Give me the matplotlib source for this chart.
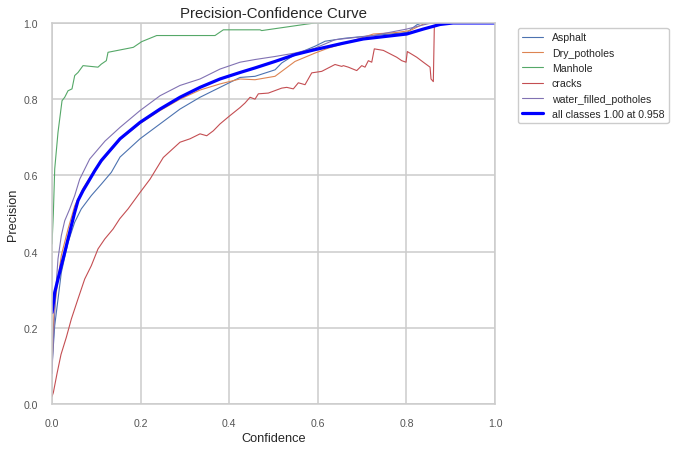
import matplotlib
matplotlib.use('Agg')
import matplotlib.pyplot as plt
import seaborn as sns

sns.set_theme(style='whitegrid')
plt.rcParams['font.family'] = ['Liberation Sans', 'DejaVu Sans']

# Precision-Confidence data
asphalt_x = [0.0, 0.0023, 0.0061, 0.021, 0.0361, 0.0512, 0.0661, 0.0887, 0.1113, 0.1339,
             0.1535, 0.1986, 0.2438, 0.2889, 0.3341, 0.3792, 0.4244, 0.4582, 0.5034,
             0.5185, 0.5485, 0.5937, 0.6163, 0.6614, 0.7253, 0.8007, 0.8233, 0.8352, 1.0]
asphalt_y = [0.1, 0.14, 0.206, 0.345, 0.424, 0.477, 0.512, 0.547, 0.577, 0.608,
             0.648, 0.696, 0.735, 0.774, 0.805, 0.831, 0.857, 0.86, 0.877,
             0.895, 0.917, 0.939, 0.952, 0.96, 0.967, 0.975, 0.995, 1.0, 1.0]

dry_x = [0.0, 0.0045, 0.0135, 0.021, 0.0361, 0.0512, 0.07, 0.0964, 0.1535, 0.1986,
         0.2438, 0.2889, 0.3341, 0.3792, 0.4244, 0.4582, 0.5034, 0.5485, 0.5937,
         0.6237, 0.6614, 0.7253, 0.7781, 0.8081, 0.8307, 0.8442, 1.0]
dry_y = [0.1, 0.24, 0.33, 0.39, 0.459, 0.52, 0.566, 0.615, 0.694, 0.736,
         0.77, 0.80, 0.824, 0.84, 0.853, 0.851, 0.86, 0.899, 0.921,
         0.934, 0.947, 0.971, 0.975, 0.98, 0.993, 1.0, 1.0]

manhole_x = [0.0, 0.003, 0.0061, 0.0135, 0.0226, 0.0287, 0.0361, 0.0451, 0.0512, 0.0587,
             0.07, 0.1038, 0.1113, 0.1226, 0.1264, 0.1835, 0.2025, 0.2363, 0.3679,
             0.3867, 0.4695, 0.4734, 0.5749, 0.5937, 1.0]
manhole_y = [0.42, 0.5, 0.617, 0.713, 0.796, 0.805, 0.822, 0.827, 0.862, 0.870,
             0.888, 0.884, 0.892, 0.901, 0.923, 0.936, 0.951, 0.967, 0.967,
             0.982, 0.982, 0.98, 0.997, 1.0, 1.0]

cracks_x = [0.0, 0.003, 0.0113, 0.0203, 0.0323, 0.0436, 0.0587, 0.0738, 0.0887, 0.1038,
            0.119, 0.1377, 0.1528, 0.1716, 0.1986, 0.2212, 0.2512, 0.2889, 0.3115,
            0.3341, 0.3492, 0.3641, 0.3792, 0.4018, 0.4244, 0.4357, 0.447, 0.4582,
            0.4657, 0.4883, 0.5185, 0.5298, 0.5447, 0.556, 0.5711, 0.5862, 0.6088,
            0.6388, 0.654, 0.6576, 0.6688, 0.6878, 0.6991, 0.7065, 0.714, 0.7217,
            0.7275, 0.7479, 0.763, 0.7781, 0.7894, 0.7991, 0.802, 0.8233, 0.8381,
            0.8533, 0.8555, 0.8607, 0.863, 0.8758, 1.0]
cracks_y = [0.02, 0.03, 0.08, 0.13, 0.175, 0.223, 0.276, 0.328, 0.363, 0.407,
            0.433, 0.459, 0.486, 0.512, 0.555, 0.59, 0.647, 0.687, 0.696,
            0.709, 0.704, 0.717, 0.735, 0.757, 0.778, 0.79, 0.805, 0.80,
            0.814, 0.816, 0.829, 0.831, 0.827, 0.843, 0.838, 0.869, 0.873,
            0.891, 0.886, 0.888, 0.884, 0.875, 0.888, 0.884, 0.901, 0.897,
            0.932, 0.928, 0.919, 0.91, 0.901, 0.897, 0.925, 0.91, 0.897,
            0.884, 0.853, 0.846, 0.993, 1.0, 1.0]

water_x = [0.0, 0.0023, 0.0097, 0.0135, 0.021, 0.0287, 0.04, 0.0512, 0.0625, 0.0774,
           0.0851, 0.1196, 0.1535, 0.1986, 0.2438, 0.2889, 0.3341, 0.3792, 0.4244,
           0.4582, 0.5034, 0.5485, 0.5937, 0.6388, 0.7253, 0.8007, 0.8458, 0.8578, 1.0]
water_y = [0.08, 0.15, 0.319, 0.381, 0.442, 0.481, 0.512, 0.547, 0.59, 0.625,
           0.643, 0.69, 0.726, 0.770, 0.809, 0.836, 0.853, 0.879, 0.897,
           0.904, 0.912, 0.921, 0.934, 0.956, 0.967, 0.984, 0.997, 1.0, 1.0]

all_x = [0.0, 0.0045, 0.0061, 0.0135, 0.021, 0.0287, 0.0361, 0.0436, 0.0512, 0.0587,
         0.07, 0.0813, 0.0964, 0.1113, 0.1535, 0.1986, 0.2438, 0.2889, 0.3341,
         0.3792, 0.4244, 0.4582, 0.5034, 0.5485, 0.5937, 0.654, 0.7027, 0.8007,
         0.8381, 0.8758, 0.9052, 1.0]
all_y = [0.24, 0.276, 0.293, 0.328, 0.363, 0.398, 0.433, 0.468, 0.503, 0.534,
         0.56, 0.582, 0.612, 0.639, 0.696, 0.739, 0.774, 0.805, 0.831,
         0.853, 0.870, 0.882, 0.899, 0.917, 0.930, 0.946, 0.958, 0.971,
         0.984, 0.996, 1.0, 1.0]

classes = ['Asphalt', 'Dry_potholes', 'Manhole', 'cracks', 'water_filled_potholes']
xs = [asphalt_x, dry_x, manhole_x, cracks_x, water_x]
ys = [asphalt_y, dry_y, manhole_y, cracks_y, water_y]
colors = ['#4c72b0', '#dd8452', '#55a868', '#c44e52', '#8172b3']

fig = plt.figure(figsize=(6.8, 4.52), dpi=100)
ax = fig.add_axes([0.0765, 0.104, 0.6515, 0.843])

for name, x, y, c in zip(classes, xs, ys, colors):
    ax.plot(x, y, linewidth=0.8, color=c, label=name)
ax.plot(all_x, all_y, linewidth=2.3, color='blue', label='all classes 1.00 at 0.958')

ax.set_xlim(0, 1)
ax.set_ylim(0, 1)
ax.set_xlabel('Confidence', fontsize=9.2, labelpad=3)
ax.set_ylabel('Precision', fontsize=9.2, labelpad=3)
ax.set_title('Precision-Confidence Curve', fontsize=10.8, pad=4)
ax.tick_params(labelsize=7.6, length=0, pad=10, colors='#555555')
ax.grid(True, color='#cccccc', linewidth=1.1)
for s in ax.spines.values():
    s.set_color('#cccccc')
    s.set_linewidth(1.1)
ax.legend(bbox_to_anchor=(1.04, 1), loc='upper left', fontsize=7.6,
          edgecolor='#cccccc', framealpha=1)

fig.savefig('out.png', dpi=100)
